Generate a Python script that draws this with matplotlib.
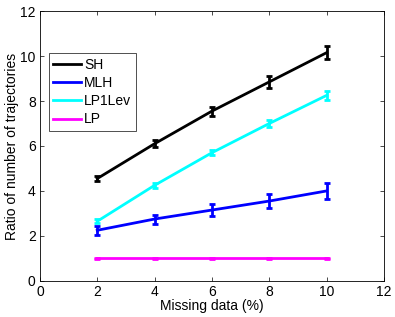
import matplotlib
matplotlib.use("Agg")
import matplotlib.pyplot as plt

plt.rcParams['font.family'] = ['Liberation Sans', 'DejaVu Sans']
plt.rcParams['font.size'] = 10

missing = [2, 4, 6, 8, 10]
labels = ["SH", "MLH", "LP1Lev", "LP"]
colors = ["black", "#0000ff", "cyan", "magenta"]
means = {
    "SH": [4.55, 6.1, 7.55, 8.85, 10.15],
    "MLH": [2.25, 2.75, 3.15, 3.55, 4.0],
    "LP1Lev": [2.65, 4.25, 5.7, 7.0, 8.25],
    "LP": [1.0, 1.0, 1.0, 1.0, 1.0],
}
errs = {
    "SH": [0.12, 0.15, 0.2, 0.25, 0.3],
    "MLH": [0.2, 0.2, 0.25, 0.3, 0.35],
    "LP1Lev": [0.08, 0.1, 0.12, 0.15, 0.2],
    "LP": [0.02, 0.02, 0.02, 0.02, 0.02],
}

fig = plt.figure(figsize=(3.95, 3.17), dpi=100)
ax = fig.add_axes([0.101, 0.114, 0.871, 0.851])

for name, c in zip(labels, colors):
    ax.errorbar(missing, means[name], yerr=errs[name], color=c, lw=2,
                elinewidth=2, capsize=2, capthick=2, label=name)

ax.set_xlim(0, 12)
ax.set_ylim(0, 12)
ax.set_xticks(range(0, 13, 2))
ax.set_yticks(range(0, 13, 2))
ax.tick_params(direction='in', top=True, right=True, length=3, width=0.5, pad=3)
for s in ax.spines.values():
    s.set_linewidth(0.6)
ax.set_xlabel("Missing data (%)", labelpad=0)
ax.set_ylabel("Ratio of number of trajectories", labelpad=1)

handles, lbls = ax.get_legend_handles_labels()
handles = [h[0] for h in handles]
leg = ax.legend(handles, lbls, loc='upper left', bbox_to_anchor=(0.005, 0.87),
                fancybox=False, edgecolor='black', handlelength=2.0,
                handletextpad=0.2, borderpad=0.35, labelspacing=0.3)
leg.get_frame().set_linewidth(0.6)

fig.savefig("out.png", dpi=100)
